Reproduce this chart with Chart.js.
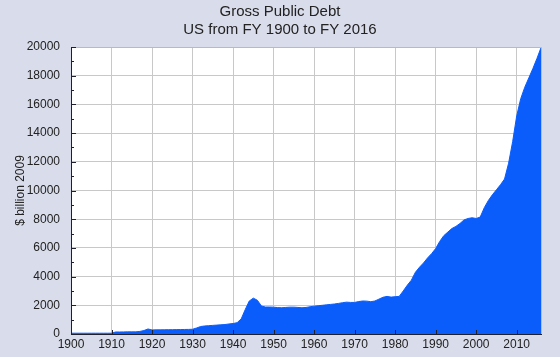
<!DOCTYPE html>
<html>
<head>
<meta charset="utf-8">
<script src="https://cdn.jsdelivr.net/npm/chart.js@4"></script>
<style>
  html, body { margin: 0; padding: 0; background: #d9dcea; }
  canvas { display: block; }
</style>
</head>
<body>
<canvas id="c" width="560" height="357"></canvas>
<script>
const titleLines = ["Gross Public Debt", "US from FY 1900 to FY 2016"];
const yAxisTitle = "$ billion 2009";

const years = [];
for (let y = 1900; y <= 2016; y++) years.push(y);

const debt1900s = [55, 55, 55, 55, 55, 55, 55, 55, 55, 55];
const debt1910s = [55, 140, 140, 145, 150, 150, 150, 180, 240, 350];
const debt1920s = [280, 290, 290, 295, 300, 300, 305, 310, 315, 320];
const debt1930s = [330, 420, 520, 560, 580, 600, 620, 640, 660, 700];
const debt1940s = [730, 790, 1050, 1700, 2300, 2500, 2350, 1950, 1880, 1880];
const debt1950s = [1870, 1840, 1830, 1850, 1870, 1870, 1850, 1830, 1850, 1900];
const debt1960s = [1940, 1970, 2000, 2030, 2060, 2090, 2130, 2180, 2220, 2200];
const debt1970s = [2200, 2260, 2300, 2290, 2250, 2300, 2430, 2560, 2620, 2570];
const debt1980s = [2600, 2620, 3000, 3400, 3750, 4300, 4650, 4950, 5300, 5600];
const debt1990s = [5950, 6450, 6850, 7100, 7350, 7500, 7700, 7950, 8050, 8100];
const debt2000s = [8050, 8150, 8800, 9300, 9700, 10050, 10400, 10800, 11900, 13400];
const debt2010s = [15200, 16400, 17200, 17850, 18500, 19200, 19950];

const debt = [].concat(debt1900s, debt1910s, debt1920s, debt1930s, debt1940s,
  debt1950s, debt1960s, debt1970s, debt1980s, debt1990s, debt2000s, debt2010s);

const xMin = 1900, xMax = 2016, xStep = 10;
const yMin = 0, yMax = 20000, yStep = 2000;
const FONT = 'Liberation Sans, Arial, sans-serif';

const bgPlugin = {
  id: 'bg',
  beforeDraw(chart) {
    const {ctx, chartArea: a} = chart;
    ctx.save();
    ctx.fillStyle = '#d9dcea';
    ctx.fillRect(0, 0, chart.width, chart.height);
    ctx.fillStyle = '#ffffff';
    ctx.fillRect(a.left, a.top, a.right - a.left, a.bottom - a.top);
    ctx.restore();
  }
};

const titlePlugin = {
  id: 'centeredTitle',
  afterDraw(chart) {
    const ctx = chart.ctx;
    ctx.save();
    ctx.fillStyle = '#222222';
    ctx.font = '15px ' + FONT;
    ctx.textAlign = 'center';
    ctx.textBaseline = 'middle';
    titleLines.forEach((t, i) => ctx.fillText(t, chart.width / 2, 12 + i * 18));
    ctx.restore();
  }
};

const framePlugin = {
  id: 'frame',
  afterDatasetsDraw(chart) {
    const {ctx, chartArea: a, scales} = chart;
    const xs = scales.x, ys = scales.y;
    ctx.save();
    ctx.strokeStyle = '#b9b9c4';
    ctx.lineWidth = 1;
    ctx.beginPath();
    ctx.moveTo(Math.round(a.left) + 0.5, Math.round(a.top) + 0.5);
    ctx.lineTo(Math.round(a.right) + 0.5, Math.round(a.top) + 0.5);
    ctx.lineTo(Math.round(a.right) + 0.5, Math.round(a.bottom) + 0.5);
    ctx.stroke();
    ctx.strokeStyle = '#1e2030';
    ctx.beginPath();
    ctx.moveTo(Math.round(a.left) + 0.5, Math.round(a.top));
    ctx.lineTo(Math.round(a.left) + 0.5, Math.round(a.bottom) + 1);
    ctx.moveTo(Math.round(a.left), Math.round(a.bottom) + 0.5);
    ctx.lineTo(Math.round(a.right) + 1, Math.round(a.bottom) + 0.5);
    ctx.stroke();
    ctx.beginPath();
    ys.ticks.forEach(t => {
      const py = Math.round(ys.getPixelForValue(t.value)) + 0.5;
      ctx.moveTo(a.left, py); ctx.lineTo(a.left + 5, py);
      const mid = t.value + yStep / 2;
      if (mid < yMax) {
        const pm = Math.round(ys.getPixelForValue(mid)) + 0.5;
        ctx.moveTo(a.left, pm); ctx.lineTo(a.left + 3, pm);
      }
    });
    xs.ticks.forEach(t => {
      const px = Math.round(xs.getPixelForValue(t.value)) + 0.5;
      ctx.moveTo(px, a.bottom); ctx.lineTo(px, a.bottom - 4);
    });
    ctx.stroke();
    ctx.restore();
  }
};

new Chart(document.getElementById('c'), {
  type: 'line',
  data: {
    datasets: [{
      data: years.map((y, i) => ({x: y, y: debt[i]})),
      fill: 'origin',
      backgroundColor: '#0a5dfb',
      borderColor: '#0a5dfb',
      borderWidth: 1,
      pointRadius: 0,
      tension: 0
    }]
  },
  options: {
    responsive: false,
    animation: false,
    devicePixelRatio: 1,
    layout: { padding: { left: 0, right: 19, top: 47, bottom: 0 } },
    plugins: {
      legend: { display: false },
      tooltip: { enabled: false },
      title: { display: false }
    },
    scales: {
      x: {
        type: 'linear',
        min: xMin, max: xMax,
        afterFit(scale) { scale.height = 23; },
        border: { display: false },
        grid: { color: '#c8c8c8', lineWidth: 1, drawTicks: false },
        ticks: {
          stepSize: xStep,
          includeBounds: false,
          padding: 3,
          maxRotation: 0,
          autoSkip: false,
          color: '#222222',
          font: { family: FONT, size: 12 },
          callback: v => String(v)
        }
      },
      y: {
        type: 'linear',
        min: yMin, max: yMax,
        afterFit(scale) { scale.width = 71; },
        border: { display: false },
        grid: { color: '#c8c8c8', lineWidth: 1, drawTicks: false },
        title: {
          display: true,
          text: yAxisTitle,
          color: '#222222',
          font: { family: FONT, size: 12 },
          padding: { top: 13, bottom: 0 }
        },
        ticks: {
          stepSize: yStep,
          padding: 11,
          color: '#222222',
          font: { family: FONT, size: 12 },
          callback: v => String(v)
        }
      }
    }
  },
  plugins: [bgPlugin, framePlugin, titlePlugin]
});
</script>
</body>
</html>
